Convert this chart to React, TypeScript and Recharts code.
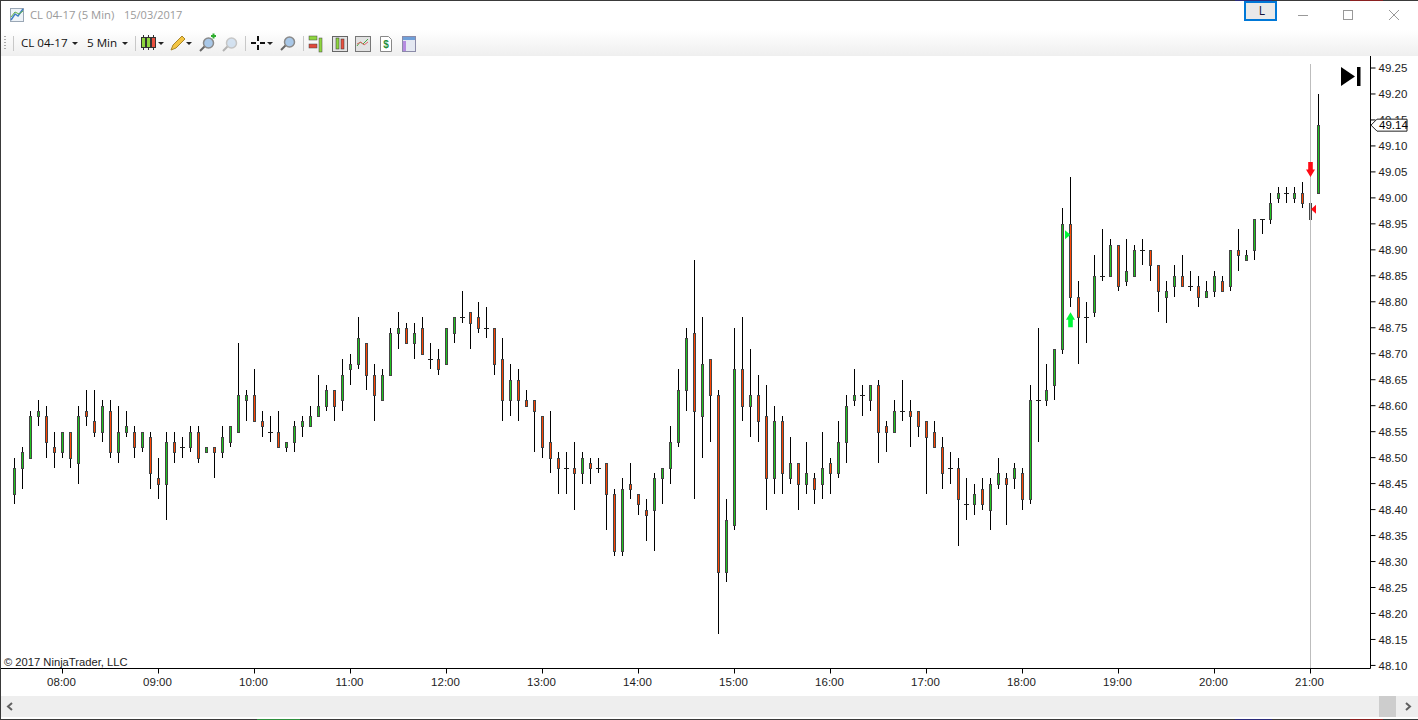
import React from 'react'
import { Bar, ComposedChart, ReferenceDot, ReferenceLine, XAxis, YAxis } from 'recharts'

const opens = [
  48.43, 48.48, 48.50, 48.58, 48.58, 48.52, 48.51, 48.55, 48.49, 48.59, 48.57, 48.55, 48.59, 48.51, 48.55, 48.55,
  48.52, 48.54, 48.46, 48.45, 48.53, 48.52, 48.52, 48.55, 48.51, 48.52, 48.51, 48.53, 48.55, 48.61, 48.62, 48.57,
  48.55, 48.55, 48.52, 48.53, 48.56, 48.56, 48.58, 48.60, 48.63, 48.61, 48.67, 48.68, 48.72, 48.66, 48.61, 48.66,
  48.74, 48.75, 48.72, 48.75, 48.69, 48.69, 48.68, 48.74, 48.77, 48.78, 48.77, 48.75, 48.75, 48.69, 48.61, 48.65,
  48.61, 48.61, 48.58, 48.53, 48.50, 48.48, 48.48, 48.47, 48.49, 48.48, 48.49, 48.43, 48.32, 48.45, 48.43, 48.40,
  48.40, 48.46, 48.48, 48.53, 48.63, 48.74, 48.58, 48.69, 48.62, 48.28, 48.37, 48.67, 48.60, 48.62, 48.58, 48.46,
  48.57, 48.46, 48.49, 48.45, 48.46, 48.45, 48.49, 48.47, 48.53, 48.61, 48.62, 48.61, 48.64, 48.56, 48.55, 48.59,
  48.59, 48.59, 48.57, 48.55, 48.52, 48.48, 48.48, 48.41, 48.41, 48.44, 48.40, 48.45, 48.46, 48.46, 48.47, 48.42,
  48.61, 48.61, 48.64, 48.71, 48.95, 48.81, 48.77, 48.78, 48.85, 48.85, 48.91, 48.84, 48.85, 48.90, 48.90, 48.87,
  48.81, 48.83, 48.85, 48.83, 48.83, 48.81, 48.82, 48.84, 48.83, 48.90, 48.88, 48.90, 48.96, 48.96, 49.00, 49.01,
  49.00, 49.01, 48.99, 49.01,
]
const highs = [
  48.50, 48.52, 48.59, 48.61, 48.60, 48.55, 48.55, 48.55, 48.60, 48.63, 48.63, 48.61, 48.61, 48.60, 48.59, 48.56,
  48.55, 48.55, 48.50, 48.55, 48.55, 48.54, 48.56, 48.56, 48.52, 48.52, 48.56, 48.56, 48.72, 48.63, 48.67, 48.59,
  48.58, 48.59, 48.53, 48.57, 48.58, 48.60, 48.66, 48.64, 48.63, 48.69, 48.70, 48.77, 48.72, 48.68, 48.67, 48.75,
  48.78, 48.76, 48.76, 48.77, 48.72, 48.71, 48.75, 48.77, 48.82, 48.78, 48.80, 48.79, 48.75, 48.73, 48.68, 48.67,
  48.63, 48.61, 48.58, 48.59, 48.51, 48.51, 48.53, 48.51, 48.50, 48.50, 48.49, 48.44, 48.46, 48.49, 48.43, 48.42,
  48.47, 48.48, 48.56, 48.67, 48.75, 48.88, 48.77, 48.69, 48.63, 48.42, 48.75, 48.77, 48.71, 48.66, 48.64, 48.60,
  48.58, 48.54, 48.49, 48.53, 48.47, 48.55, 48.50, 48.57, 48.62, 48.67, 48.64, 48.64, 48.65, 48.57, 48.61, 48.65,
  48.61, 48.59, 48.57, 48.57, 48.54, 48.51, 48.50, 48.46, 48.45, 48.46, 48.46, 48.50, 48.47, 48.49, 48.48, 48.64,
  48.75, 48.68, 48.71, 48.98, 49.04, 48.84, 48.80, 48.89, 48.94, 48.92, 48.91, 48.92, 48.91, 48.92, 48.90, 48.87,
  48.84, 48.87, 48.89, 48.86, 48.85, 48.84, 48.86, 48.85, 48.90, 48.94, 48.90, 48.96, 48.96, 49.01, 49.02, 49.02,
  49.02, 49.03, 49.03, 49.20,
]
const lows = [
  48.41, 48.44, 48.50, 48.56, 48.50, 48.48, 48.50, 48.48, 48.45, 48.56, 48.54, 48.53, 48.50, 48.49, 48.54, 48.50,
  48.51, 48.44, 48.42, 48.38, 48.49, 48.50, 48.51, 48.49, 48.51, 48.46, 48.50, 48.52, 48.55, 48.57, 48.57, 48.54,
  48.53, 48.52, 48.51, 48.51, 48.54, 48.56, 48.58, 48.59, 48.57, 48.59, 48.64, 48.67, 48.63, 48.57, 48.61, 48.66,
  48.71, 48.72, 48.69, 48.70, 48.67, 48.66, 48.68, 48.72, 48.76, 48.71, 48.74, 48.73, 48.66, 48.57, 48.58, 48.57,
  48.60, 48.51, 48.50, 48.47, 48.43, 48.43, 48.40, 48.45, 48.45, 48.47, 48.36, 48.31, 48.31, 48.42, 48.39, 48.34,
  48.32, 48.41, 48.45, 48.52, 48.59, 48.42, 48.50, 48.53, 48.16, 48.26, 48.36, 48.57, 48.54, 48.53, 48.40, 48.43,
  48.43, 48.45, 48.40, 48.43, 48.41, 48.42, 48.43, 48.46, 48.49, 48.60, 48.58, 48.59, 48.49, 48.51, 48.55, 48.57,
  48.52, 48.54, 48.43, 48.52, 48.44, 48.45, 48.33, 48.38, 48.39, 48.40, 48.36, 48.44, 48.37, 48.44, 48.40, 48.41,
  48.53, 48.60, 48.61, 48.70, 48.79, 48.68, 48.72, 48.77, 48.84, 48.85, 48.82, 48.83, 48.85, 48.87, 48.84, 48.78,
  48.76, 48.81, 48.83, 48.82, 48.79, 48.81, 48.81, 48.82, 48.82, 48.86, 48.88, 48.88, 48.93, 48.95, 48.99, 48.99,
  48.99, 48.98, 48.95, 49.01,
]
const closes = [
  48.48, 48.51, 48.58, 48.59, 48.53, 48.51, 48.55, 48.50, 48.58, 48.58, 48.55, 48.60, 48.51, 48.55, 48.56, 48.52,
  48.55, 48.47, 48.45, 48.53, 48.51, 48.52, 48.55, 48.50, 48.52, 48.51, 48.54, 48.56, 48.62, 48.62, 48.57, 48.56,
  48.55, 48.52, 48.53, 48.56, 48.57, 48.58, 48.60, 48.63, 48.60, 48.66, 48.68, 48.73, 48.66, 48.62, 48.66, 48.74,
  48.75, 48.72, 48.74, 48.70, 48.69, 48.67, 48.75, 48.77, 48.77, 48.76, 48.75, 48.75, 48.68, 48.61, 48.65, 48.61,
  48.60, 48.59, 48.52, 48.50, 48.48, 48.48, 48.47, 48.50, 48.48, 48.48, 48.43, 48.32, 48.44, 48.44, 48.41, 48.39,
  48.46, 48.48, 48.53, 48.63, 48.73, 48.59, 48.68, 48.62, 48.28, 48.38, 48.67, 48.60, 48.62, 48.57, 48.46, 48.57,
  48.47, 48.49, 48.45, 48.47, 48.44, 48.48, 48.47, 48.53, 48.60, 48.62, 48.62, 48.64, 48.55, 48.55, 48.59, 48.59,
  48.58, 48.56, 48.54, 48.52, 48.47, 48.48, 48.42, 48.41, 48.43, 48.41, 48.45, 48.47, 48.45, 48.48, 48.42, 48.61,
  48.61, 48.63, 48.71, 48.95, 48.81, 48.77, 48.77, 48.85, 48.85, 48.91, 48.83, 48.86, 48.90, 48.90, 48.87, 48.82,
  48.82, 48.85, 48.83, 48.83, 48.81, 48.82, 48.85, 48.82, 48.90, 48.89, 48.89, 48.96, 48.96, 48.99, 49.01, 49.01,
  49.01, 48.99, 48.96, 49.14,
]

const firstBarMinute = 7 * 60 + 30
const barMinutes = 5
const timeTicks = [
  '08:00', '09:00', '10:00', '11:00', '12:00', '13:00', '14:00',
  '15:00', '16:00', '17:00', '18:00', '19:00', '20:00', '21:00',
]
const priceTicks = [
  48.10, 48.15, 48.20, 48.25, 48.30, 48.35, 48.40, 48.45, 48.50, 48.55, 48.60, 48.65,
  48.70, 48.75, 48.80, 48.85, 48.90, 48.95, 49.00, 49.05, 49.10, 49.15, 49.20, 49.25,
]
const lastPrice = 49.14
const priceDomain = [48.0941, 49.2731]

// trade markers from the strategy
const markers = [
  { time: '18:30', price: 48.78, kind: 'buyArrow' },
  { time: '18:30', price: 48.929, kind: 'buyEntry' },
  { time: '21:00', price: 49.04, kind: 'sellArrow' },
  { time: '21:00', price: 48.978, kind: 'sellEntry' },
]
const cursorTime = '21:00'
const cursorTop = 49.2577

const UP_COLOR = '#1fc41f'
const DOWN_COLOR = '#ff4500'
const BUY_COLOR = '#00f93a'
const SELL_COLOR = '#ff0a14'
const TEXT_COLOR = '#1c1c1c'
const FONT = '"Liberation Sans", Arial, sans-serif'
const UI_FONT = '"Open Sans", "Noto Sans", sans-serif'

const formatTime = (minute: number) => {
  const h = Math.floor(minute / 60)
  const m = minute % 60
  return `${String(h).padStart(2, '0')}:${String(m).padStart(2, '0')}`
}

const data = opens.map((open, i) => ({
  time: formatTime(firstBarMinute + i * barMinutes),
  open,
  high: highs[i],
  low: lows[i],
  close: closes[i],
}))

const Candle = ({ x, y, width, height, payload }: any) => {
  const cx = x + width / 2
  const { open, high, low, close } = payload
  const toY = (price: number) => y + ((high - price) / (high - low)) * height
  const top = Math.round(toY(Math.max(open, close))) + 0.5
  const bottom = Math.round(toY(Math.min(open, close))) + 0.5
  return (
    <g shapeRendering="crispEdges">
      <line x1={cx} x2={cx} y1={y} y2={y + height} stroke="#000" strokeWidth={1} />
      {open === close ? (
        <line x1={cx - 2.5} x2={cx + 2.5} y1={top} y2={top} stroke="#222" strokeWidth={1} />
      ) : (
        <rect
          x={cx - 1}
          y={top}
          width={2}
          height={bottom - top}
          fill={close > open ? UP_COLOR : DOWN_COLOR}
          stroke="#444"
          strokeWidth={1}
        />
      )}
    </g>
  )
}

const Marker = ({ cx, cy, kind }: any) => {
  if (kind === 'buyArrow') {
    const d = `M${cx} ${cy} l4.5 7.5 h-2.2 v7.5 h-4.6 v-7.5 h-2.2 z`
    return <path d={d} fill={BUY_COLOR} />
  }
  if (kind === 'sellArrow') {
    const d = `M${cx} ${cy} l4.5 -7.5 h-2.2 v-7.5 h-4.6 v7.5 h-2.2 z`
    return <path d={d} fill={SELL_COLOR} />
  }
  if (kind === 'buyEntry') {
    return <path d={`M${cx - 5.5} ${cy - 4.5} L${cx} ${cy} L${cx - 5.5} ${cy + 4.5} z`} fill={BUY_COLOR} />
  }
  return <path d={`M${cx + 0.5} ${cy} L${cx + 5.5} ${cy - 4.5} V${cy + 4.5} z`} fill={SELL_COLOR} />
}

const PriceTick = ({ x, y, payload }: any) => {
  if (payload.value === lastPrice) {
    return (
      <g>
        <path
          d={`M${x - 7.5} ${y} L${x - 1.5} ${y - 6} H${x + 28.5} V${y + 6} H${x - 1.5} z`}
          fill="#fff"
          stroke="#222"
          strokeWidth={1}
        />
        <text x={x + 0.5} y={y} dy="0.36em" fontSize={11.5} fontFamily={FONT} fill="#000">
          {payload.value.toFixed(2)}
        </text>
      </g>
    )
  }
  return (
    <text x={x} y={y} dy="0.36em" fontSize={11.5} fontFamily={FONT} fill={TEXT_COLOR}>
      {payload.value.toFixed(2)}
    </text>
  )
}

const Caret = ({ x, y }: { x: number; y: number }) => (
  <path d={`M${x} ${y} h6 l-3 3 z`} fill="#222" />
)

const CandleIcon = ({ x, y }: { x: number; y: number }) => (
  <g stroke="#333" strokeWidth={1}>
    <path d={`M${x + 2.5} ${y} v15 M${x + 7.5} ${y} v15 M${x + 12.5} ${y} v15`} />
    <rect x={x + 0.5} y={y + 2.5} width={4} height={10} fill="#8ed63f" />
    <rect x={x + 5.5} y={y + 2.5} width={4} height={10} fill="#8ed63f" />
    <rect x={x + 10.5} y={y + 2.5} width={4} height={10} fill="#e8503f" />
  </g>
)

const ZoomIcon = ({ x, y, dim }: { x: number; y: number; dim?: boolean }) => (
  <g opacity={dim ? 0.45 : 1}>
    <line x1={x + 1} y1={y + 15} x2={x + 6} y2={y + 10} stroke="#666" strokeWidth={2} />
    <circle cx={x + 9.5} cy={y + 7} r={5} fill="#a9c8e8" stroke="#8a8a8a" strokeWidth={1.5} />
  </g>
)

const WindowChrome = () => (
  <svg
    width={1418}
    height={720}
    style={{ position: 'absolute', left: 0, top: 0, pointerEvents: 'none' }}
  >
    <defs>
      <linearGradient id="toolbarFill" x1="0" y1="0" x2="0" y2="1">
        <stop offset="0%" stopColor="#ffffff" />
        <stop offset="100%" stopColor="#efefef" />
      </linearGradient>
    </defs>
    <rect x={0} y={0} width={1418} height={30} fill="#fff" />
    <rect x={0} y={30} width={1418} height={26} fill="url(#toolbarFill)" />
    <rect x={0} y={0} width={1418} height={1} fill="#3a3a3a" />
    <rect x={1235} y={0} width={37} height={1} fill="#2b2b7a" />
    <rect x={1350} y={0} width={33} height={1} fill="#8a2020" />
    <rect x={0} y={0} width={1} height={720} fill="#3a3a3a" />

    {/* title bar */}
    <rect x={10.5} y={8.5} width={13} height={13} fill="#eef3f8" stroke="#9aa7b5" />
    <path d="M11 20 L15 14 L18 16 L23 9" fill="none" stroke="#3f7ec4" strokeWidth={1.5} />
    <path d="M11 17 L15 12 L19 14 L23 11" fill="none" stroke="#5fb04a" strokeWidth={1} />
    <text x={30} y={19} fontSize={11.3} fontFamily={UI_FONT} fill="#9a9a9a">
      CL 04-17 (5 Min)
    </text>
    <text x={124} y={19} fontSize={11} fontFamily={UI_FONT} fill="#9a9a9a">
      15/03/2017
    </text>

    <rect x={1245} y={2} width={31} height={18} fill="#e9e9e9" stroke="#0078d7" strokeWidth={2} />
    <text x={1262} y={15} fontSize={12} fontFamily={UI_FONT} fill="#14143c" textAnchor="middle">
      L
    </text>
    <rect x={1298} y={15} width={10} height={1} fill="#999" />
    <rect x={1343.5} y={10.5} width={9} height={9} fill="none" stroke="#999" />
    <path d="M1389 10 L1399 20 M1399 10 L1389 20" stroke="#999" />

    {/* toolbar */}
    <path d="M5 36 v1 M5 39 v1 M5 42 v1 M5 45 v1 M5 48 v1" stroke="#aaa" strokeWidth={2} />
    <rect x={13} y={36} width={1} height={15} fill="#c8c8c8" />
    <text x={21} y={47} fontSize={11.6} fontFamily={UI_FONT} fill="#111">
      CL 04-17
    </text>
    <Caret x={72} y={42} />
    <text x={87} y={47} fontSize={11.6} fontFamily={UI_FONT} fill="#111">
      5 Min
    </text>
    <Caret x={122} y={42} />
    <rect x={135} y={36} width={1} height={15} fill="#c8c8c8" />
    <CandleIcon x={141} y={35} />
    <Caret x={158} y={42} />
    <path d="M171 50 l2 -5 l9 -9 l3 3 l-9 9 z" fill="#f4c542" stroke="#a8862a" />
    <Caret x={186} y={42} />
    <ZoomIcon x={199} y={36} />
    <path d="M211 36 h5 M213.500 33.500 v5" stroke="#2fae2f" strokeWidth={2} />
    <ZoomIcon x={222} y={36} dim />
    <rect x={245} y={36} width={1} height={15} fill="#c8c8c8" />
    <path d="M251 43 h5 M260 43 h5 M258 36 v5 M258 45 v5" stroke="#111" strokeWidth={2} />
    <Caret x={267} y={42} />
    <ZoomIcon x={280} y={35} />
    <rect x={303} y={36} width={1} height={15} fill="#c8c8c8" />
    <rect x={309} y={36} width={8} height={4} fill="#8ed63f" stroke="#444" strokeWidth={0.5} />
    <rect x={309} y={44} width={8} height={4} fill="#e0483a" stroke="#444" strokeWidth={0.5} />
    <rect x={319} y={38} width={3} height={14} fill="#8ed63f" stroke="#444" strokeWidth={0.5} />
    <rect x={332.500} y={36.500} width={15} height={15} fill="#e4e4e4" stroke="#666" />
    <rect x={336} y={38} width={3} height={11} fill="#8ed63f" stroke="#333" strokeWidth={0.5} />
    <rect x={341} y={39} width={3} height={10} fill="#e8503f" stroke="#333" strokeWidth={0.5} />
    <rect x={355.500} y={36.500} width={15} height={15} fill="#e2e2e2" stroke="#777" />
    <path d="M357 46 l3 -4 l3 2 l5 -5" fill="none" stroke="#4aa84a" />
    <path d="M357 44 l4 -2 l3 3 l4 -3" fill="none" stroke="#d66" />
    <path d="M380.500 36.500 h8 l3 3 v12 h-11 z" fill="#fff" stroke="#888" />
    <text x={386} y={48} fontSize={10} fontWeight="bold" fontFamily={FONT} fill="#1f8f3a" textAnchor="middle">
      $
    </text>
    <rect x={402.500} y={36.500} width={13} height={15} fill="#e4e8f2" stroke="#8b8ba8" />
    <rect x={403} y={37} width={12} height={3} fill="#6f9fd8" />
    <rect x={403} y={41} width={3} height={10} fill="#b58be0" />

    {/* play-through button */}
    <path d="M1341 67 L1355 76.500 L1341 86 z" fill="#000" />
    <rect x={1357} y={67} width={3.5} height={19} fill="#000" />

    {/* scroll bar */}
    <rect x={1} y={696} width={1417} height={21} fill="#eeeeee" />
    <path d="M12 703 L8 706.500 L12 710" fill="none" stroke="#606060" strokeWidth={2} />
    <rect x={1379} y={696} width={17} height={21} fill="#cdcdcd" />
    <path d="M1406 703 L1410 706.500 L1406 710" fill="none" stroke="#606060" strokeWidth={2} />
    <rect x={1} y={717} width={1417} height={2} fill="#fff" />
    <rect x={0} y={719} width={1418} height={1} fill="#3a3a3a" />
    <rect x={257} y={719} width={43} height={1} fill="#2f8f3f" />
    <rect x={1235} y={719} width={37} height={1} fill="#2b2b7a" />
    <rect x={1350} y={719} width={33} height={1} fill="#8a2020" />

    <text x={4} y={666} fontSize={11.2} fontFamily={FONT} fill={TEXT_COLOR}>
      © 2017 NinjaTrader, LLC
    </text>
  </svg>
)

export default function App() {
  return (
    <div style={{ position: 'absolute', left: 0, top: 0, width: 1418, height: 720, overflow: 'hidden', background: '#fff' }}>
      <ComposedChart
        width={1418}
        height={720}
        data={data}
        margin={{ top: 56, right: 0, bottom: 0, left: 0 }}
        barCategoryGap={0}
      >
        <XAxis
          dataKey="time"
          type="category"
          height={51.5}
          ticks={timeTicks}
          interval={0}
          padding={{ left: 10.5, right: 48 }}
          axisLine={{ stroke: '#000' }}
          tickLine={{ stroke: '#000' }}
          tickSize={5}
          tickMargin={4}
          tick={{ fill: TEXT_COLOR, fontSize: 11.5, fontFamily: FONT, dx: -1 }}
        />
        <YAxis
          orientation="right"
          width={47.5}
          domain={priceDomain}
          ticks={[...priceTicks, lastPrice]}
          interval={0}
          axisLine={{ stroke: '#000' }}
          tickLine={{ stroke: '#000' }}
          tickSize={5}
          tickMargin={3}
          tick={<PriceTick />}
        />
        <ReferenceLine
          segment={[
            { x: cursorTime, y: cursorTop },
            { x: cursorTime, y: priceDomain[0] },
          ]}
          stroke="#bdbdbd"
          strokeWidth={1}
        />
        <Bar
          dataKey={(d: any) => [d.low, d.high]}
          barSize={4}
          shape={<Candle />}
          isAnimationActive={false}
        />
        {markers.map((m) => (
          <ReferenceDot
            key={m.kind}
            x={m.time}
            y={m.price}
            shape={(props: any) => <Marker {...props} kind={m.kind} />}
          />
        ))}
      </ComposedChart>
      <WindowChrome />
    </div>
  )
}
